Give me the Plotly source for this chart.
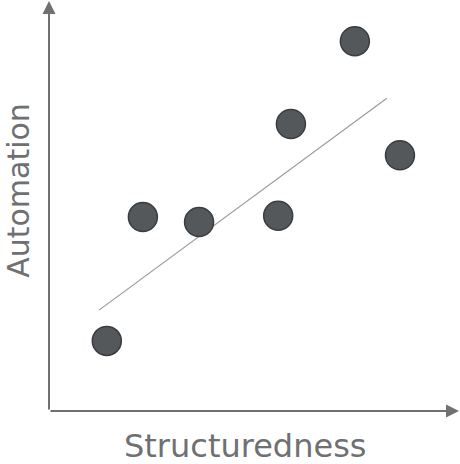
import plotly.graph_objects as go

# Data (arbitrary 0-10 units)
structuredness = [1.41, 2.29, 3.66, 5.59, 5.90, 7.46, 8.56]
automation = [1.71, 4.73, 4.61, 4.76, 7.00, 9.02, 6.24]
trend_x = [1.22, 8.24]
trend_y = [2.46, 7.63]
x_title = "Structuredness"
y_title = "Automation"

GRAY = "#6f7072"
AXIS = "#707070"

fig = go.Figure()
fig.add_trace(go.Scatter(x=trend_x, y=trend_y, mode="lines",
                         line=dict(color="#9a9a9a", width=1.2),
                         hoverinfo="skip", showlegend=False))
fig.add_trace(go.Scatter(x=structuredness, y=automation, mode="markers",
                         marker=dict(size=29, color="#54585b",
                                     line=dict(color="#3a3d40", width=1.5)),
                         showlegend=False))

# axes with arrows
fig.add_annotation(x=10, y=0, ax=0, ay=0, xref="x", yref="y", axref="x", ayref="y",
                   showarrow=True, arrowhead=2, arrowsize=1.3, arrowwidth=2,
                   arrowcolor=AXIS, text="")
fig.add_annotation(x=0, y=10, ax=0, ay=0, xref="x", yref="y", axref="x", ayref="y",
                   showarrow=True, arrowhead=2, arrowsize=1.3, arrowwidth=2,
                   arrowcolor=AXIS, text="")

fig.add_annotation(text=x_title, xref="paper", yref="paper", x=0.478, y=-0.085,
                   xanchor="center", yanchor="middle", showarrow=False,
                   font=dict(family="DejaVu Sans", size=32, color=GRAY))
fig.add_annotation(text=y_title, xref="paper", yref="paper", x=-0.076, y=0.539,
                   xanchor="center", yanchor="middle", showarrow=False, textangle=-90,
                   font=dict(family="DejaVu Sans", size=30, color=GRAY))

fig.update_xaxes(range=[0, 10], showgrid=False, zeroline=False, showticklabels=False,
                 showline=False, ticks="")
fig.update_yaxes(range=[0, 10], showgrid=False, zeroline=False, showticklabels=False,
                 showline=False, ticks="")
fig.update_layout(width=460, height=464, margin=dict(l=49, r=1, t=1, b=53),
                  plot_bgcolor="white", paper_bgcolor="white")
fig.write_html("out.html", config={"displayModeBar": False},
               post_script="document.body.style.margin='0';document.body.style.overflow='hidden';")
